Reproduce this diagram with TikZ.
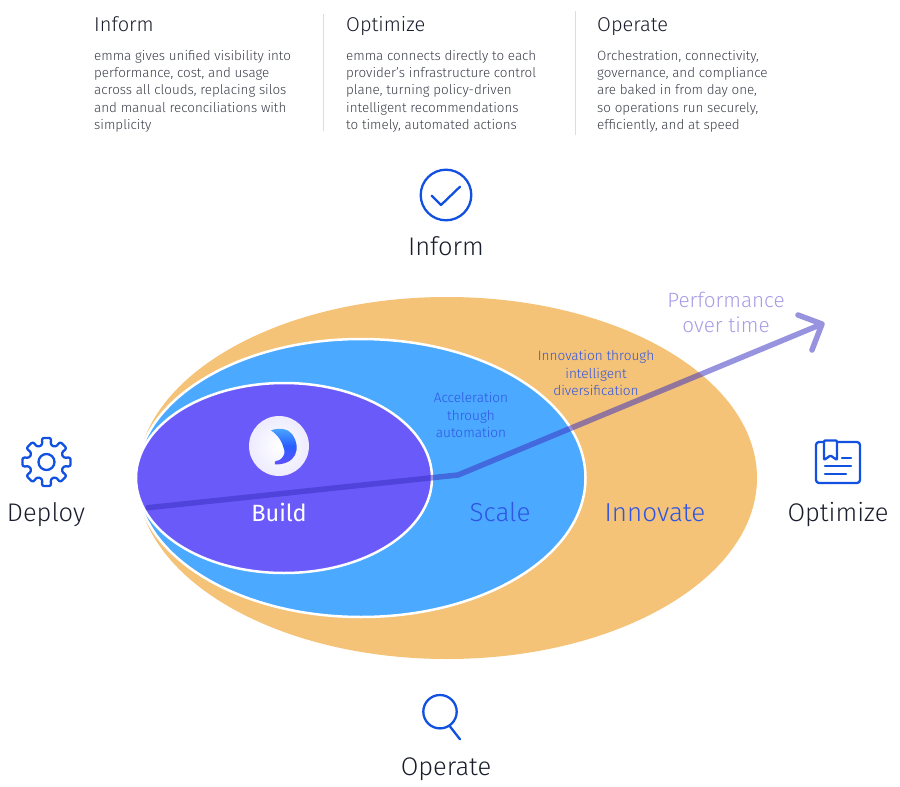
\documentclass[tikz,border=0pt]{standalone}
\usepackage{fontspec}
\setmainfont{Fira Sans}[UprightFont=* Light]
\newfontfamily\regfont{Fira Sans}
\usetikzlibrary{calc,shadings}
\definecolor{orangefill}{HTML}{F4C377}
\definecolor{bluefill}{HTML}{4BAAFF}
\definecolor{purplefill}{HTML}{6A5AFA}
\definecolor{iconblue}{HTML}{1150E0}
\definecolor{labelblue}{HTML}{2F55E2}
\definecolor{perfline}{HTML}{3A2FC0}
\definecolor{perftext}{HTML}{A79CE6}
\definecolor{inktext}{HTML}{1A1D2B}
\definecolor{bodytext}{HTML}{3A3D48}
\definecolor{dividercol}{HTML}{DADCEA}
\tikzset{
  x=1pt,y=-1pt,
  headtitle/.style={anchor=base west,inner sep=0,font=\fontsize{20}{22}\selectfont,text=inktext},
  bodyblock/.style={anchor=north west,inner sep=0,align=left,font=\fontsize{13.4}{17.3}\selectfont,text=bodytext},
  iconlabel/.style={anchor=base,inner sep=0,font=\fontsize{25.5}{28}\selectfont,text=inktext},
  stagelabel/.style={anchor=base,inner sep=0,font=\fontsize{26}{28}\selectfont},
  smalllabel/.style={anchor=center,inner sep=0,align=center,font=\fontsize{13.6}{17.4}\selectfont,text=labelblue},
  icon/.style={draw=iconblue,line width=2.3pt,line cap=round,line join=round},
  divider/.style={draw=dividercol,line width=1pt},
}
\begin{document}
\begin{tikzpicture}
\useasboundingbox (0,0) rectangle (900,787);
% headers
\node[headtitle] (t1) at (94,31) {Inform};
\node[headtitle] (t2) at (346,31) {Optimize};
\node[headtitle] (t3) at (597,31) {Operate};
\node[bodyblock] (b1) at (94,50) {emma gives unified visibility into\\performance, cost, and usage\\across all clouds, replacing silos\\and manual reconciliations with\\simplicity};
\node[bodyblock] (b2) at (346,50) {emma connects directly to each\\provider’s infrastructure control\\plane, turning policy-driven\\intelligent recommendations\\to timely, automated actions};
\node[bodyblock] (b3) at (597,50) {Orchestration, connectivity,\\governance, and compliance\\are baked in from day one,\\so operations run securely,\\efficiently, and at speed};
\coordinate (d1a) at (323,14); \coordinate (d1b) at (323,131);
\coordinate (d2a) at (575,11); \coordinate (d2b) at (575,135);
\draw[divider] (d1a) -- (d1b);
\draw[divider] (d2a) -- (d2b);
% ellipses
\fill[orangefill] (447,478) ellipse [x radius=310,y radius=181];
\filldraw[fill=bluefill,draw=white,line width=2.5pt] (361,478) ellipse [x radius=224.5,y radius=139];
\filldraw[fill=purplefill,draw=white,line width=2.5pt] (284,478) ellipse [x radius=148,y radius=95];
% logo
\shade[inner color=white,outer color=white!88!purplefill] (279,446) circle [radius=30];
\shade[top color=bluefill,bottom color=purplefill!90!blue,middle color=blue!45!bluefill]
  (271,430.3) .. controls (279,427.5) and (288,428.5) .. (292,434)
  .. controls (297,441) and (298,449) .. (295,455)
  .. controls (292,461) and (285,464.5) .. (275,464.5)
  .. controls (274,462) and (275,461.5) .. (276,461)
  .. controls (280,460.5) and (283,458) .. (284.3,453.7)
  .. controls (285,451) and (284,449) .. (283.3,447)
  .. controls (282,442) and (279,436) .. (271,430.3) -- cycle;
% performance line
\coordinate (p0) at (148,507.7);
\coordinate (p1) at (458,475);
\coordinate (p2) at (822,324);
\coordinate (h1) at (798,315);
\coordinate (h2) at (812,350);
\draw[perfline,opacity=.52,line width=5.5pt,line cap=round,line join=round]
  (p0) -- (p1) -- (p2) (h1) -- (p2) -- (h2);
% stage labels
\node[stagelabel,text=white,font=\regfont\fontsize{23.5}{28}\selectfont] (build) at (279,521) {Build};
\node[stagelabel,text=labelblue] (scale) at (500,521) {Scale};
\node[stagelabel,text=labelblue] (innovate) at (655,521) {Innovate};
\node[smalllabel] (accel) at (471,415) {Acceleration\\through\\automation};
\node[smalllabel] (innov) at (596,373) {Innovation through\\intelligent\\diversification};
\node[anchor=center,inner sep=0,align=center,text=perftext,font=\fontsize{20.7}{25}\selectfont] (perf) at (726,312) {Performance\\over time};
% inform icon
\draw[icon] (446,195) circle [radius=25.3];
\draw[icon] (431.7,195.7) -- (441,205) -- (460,186.7);
\node[iconlabel] (linform) at (446,255) {Inform};
% deploy icon
\begin{scope}[shift={(46.5,462)}]
  \draw[icon,rounded corners=2.2pt]
  \foreach \a [count=\i] in {0,45,...,315}{
    \ifnum\i=1 ($(\a-11:24.5)$) \else -- ($(\a-11:24.5)$) \fi
    -- ($(\a+11:24.5)$) -- ($(\a+13.5:17.5)$) -- ($(\a+31.5:17.5)$)
  } -- cycle;
  \draw[icon] (0,0) circle [radius=8];
\end{scope}
\node[iconlabel] (ldeploy) at (46,521) {Deploy};
% optimize icon
\draw[icon,rounded corners=3pt] (824,442) -- (816,442) -- (816,483) -- (860,483) -- (860,442) -- (837,442);
\draw[icon,rounded corners=1pt] (824,460) -- (824,440.5) -- (837,440.5) -- (837,460) -- (830.5,455.5) -- cycle;
\coordinate (o1a) at (842,458); \coordinate (o1b) at (851,458);
\coordinate (o2a) at (825,466); \coordinate (o2b) at (851,466);
\coordinate (o3a) at (825,474); \coordinate (o3b) at (846,474);
\draw[icon] (o1a) -- (o1b) (o2a) -- (o2b) (o3a) -- (o3b);
\node[iconlabel] (loptimize) at (838,521) {Optimize};
% operate icon
\draw[icon] (440,711.7) circle [radius=16.7];
\draw[icon] (449.3,725.6) -- (460,739.3);
\node[iconlabel] (loperate) at (446,775) {Operate};
\end{tikzpicture}
\end{document}
